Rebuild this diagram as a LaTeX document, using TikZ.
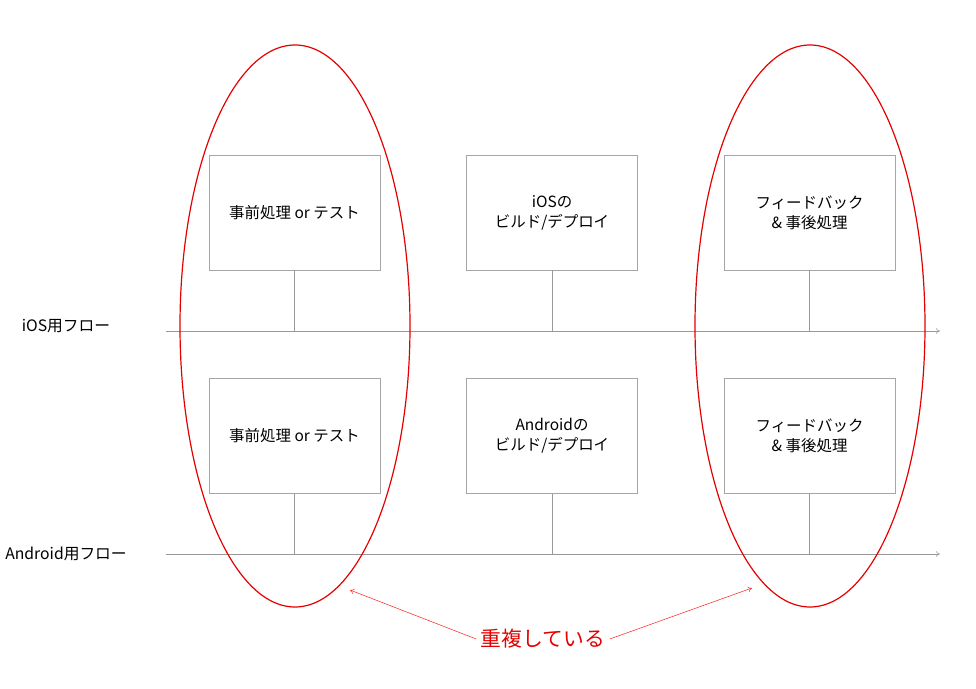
\documentclass[tikz,border=0pt]{standalone}
\usepackage{fontspec}
\setmainfont{Noto Sans CJK JP}
\usetikzlibrary{arrows.meta,positioning}

\tikzset{
  box/.style={draw=gray!70,minimum width=128.25pt,minimum height=86.25pt,
    align=center,font=\fontsize{11.6}{15}\selectfont},
  flowline/.style={gray!80,-{To[length=3pt,width=4pt]}},
  tick/.style={gray!80},
  lane/.style={font=\fontsize{11.8}{15}\selectfont},
  dup/.style={red!90!black,line width=0.9pt},
  duparrow/.style={red!85,-{To[length=3pt,width=4pt]}}
}

\begin{document}
\begin{tikzpicture}[x=0.75pt,y=-0.75pt]
		\useasboundingbox (0,0) rectangle (976,689);
		% boxes
		\node[box] (pre-ios) at (294.5,212.5) {事前処理 or テスト};
		\node[box,right=64.5pt of pre-ios] (build-ios) {iOSの\\ビルド/デプロイ};
		\node[box,right=64.5pt of build-ios] (fb-ios) {フィードバック\\\& 事後処理};
		\node[box,below=81pt of pre-ios] (pre-and) {事前処理 or テスト};
		\node[box,right=64.5pt of pre-and] (build-and) {Androidの\\ビルド/デプロイ};
		\node[box,right=64.5pt of build-and] (fb-and) {フィードバック\\\& 事後処理};
		% flows
		\coordinate (ios-start) at (166,331);
		\coordinate (ios-end) at (940,331);
		\coordinate (and-start) at (166,554);
		\coordinate (and-end) at (940,554);
		\node[lane] (ios-label) at (66,326) {iOS用フロー};
		\node[lane] (and-label) at (66,554) {Android用フロー};
		\draw[flowline] (ios-start)--(ios-end);
		\draw[flowline] (and-start)--(and-end);
		\foreach \b in {pre,build,fb}
		{\draw[tick] (\b-ios.south)--(\b-ios.south |- ios-start);
		 \draw[tick] (\b-and.south)--(\b-and.south |- and-start);}
		% duplicated steps
		\draw[dup] (295,326) ellipse (115 and 281);
		\draw[dup] (810,326) ellipse (115 and 281);
		\node[text=red!90!black,font=\fontsize{15.6}{18}\selectfont] (dup-label) at (543,639) {重複している};
		\coordinate (dup-left) at (350,590);
		\coordinate (dup-right) at (752,588);
		\draw[duparrow] (dup-label.west)--(dup-left);
		\draw[duparrow] (dup-label.east)--(dup-right);
	\end{tikzpicture}
\end{document}
